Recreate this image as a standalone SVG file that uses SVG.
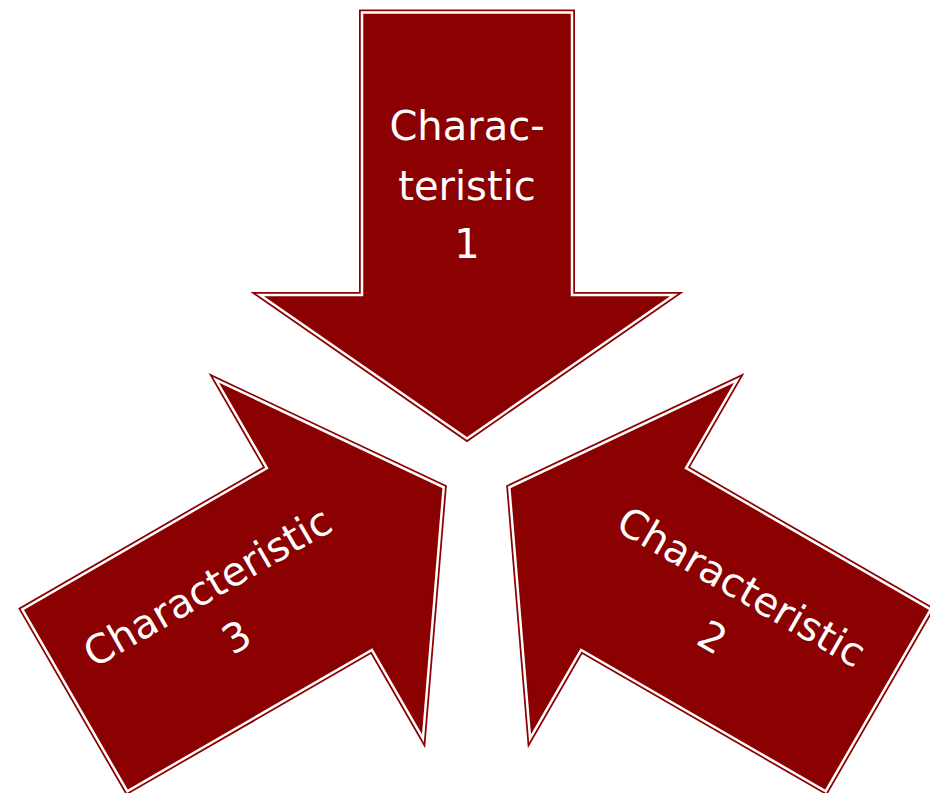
<svg xmlns="http://www.w3.org/2000/svg" xmlns:xlink="http://www.w3.org/1999/xlink" width="930" height="793" viewBox="0 0 930 793">
  <style>
    .outer { fill: #8B0000; stroke: #8B0000; stroke-width: 6; stroke-linejoin: miter; stroke-miterlimit: 10; }
    .inner { fill: none; stroke: #FFFFFF; stroke-width: 2.5; stroke-linejoin: miter; stroke-miterlimit: 10; }
    .lbl { font-family: "DejaVu Sans", "Liberation Sans", sans-serif; font-size: 40px; fill: #FFFFFF; text-anchor: middle; }
  </style>
  <defs>
    <path id="arrow" d="M362,12.5 H572 V295 H674 L467,438.5 L260,295 H362 Z"/>
  </defs>
  <rect width="930" height="793" fill="#FFFFFF"/>
  <g id="characteristic-1">
    <use xlink:href="#arrow" href="#arrow" class="outer"/>
    <use xlink:href="#arrow" href="#arrow" class="inner"/>
    <text class="lbl" x="467" y="140">Charac-</text>
    <text class="lbl" x="467" y="200">teristic</text>
    <text class="lbl" x="467" y="258">1</text>
  </g>
  <g id="characteristic-3">
    <g transform="translate(443.7,487.3) rotate(-120) translate(-467,-438.5)">
      <use xlink:href="#arrow" href="#arrow" class="outer"/>
      <use xlink:href="#arrow" href="#arrow" class="inner"/>
    </g>
    <g transform="translate(222,612) rotate(-30)">
      <text class="lbl" x="0" y="-15">Characteristic</text>
      <text class="lbl" x="0" y="43">3</text>
    </g>
  </g>
  <g id="characteristic-2">
    <g transform="translate(509.3,487.3) rotate(120) translate(-467,-438.5)">
      <use xlink:href="#arrow" href="#arrow" class="outer"/>
      <use xlink:href="#arrow" href="#arrow" class="inner"/>
    </g>
    <g transform="translate(727,612) rotate(30)">
      <text class="lbl" x="0" y="-15">Characteristic</text>
      <text class="lbl" x="0" y="43">2</text>
    </g>
  </g>
</svg>
